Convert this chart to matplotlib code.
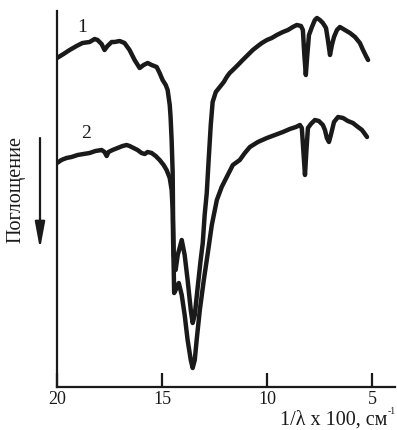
import matplotlib
matplotlib.use('Agg')
import matplotlib.pyplot as plt
import numpy as np

# волновое число (1/λ x 100, см-1) и поглощение (усл. ед.)
wn1 = [20.0, 19.69, 19.40, 19.07, 18.79, 18.45, 18.21, 18.07, 17.88, 17.74, 17.60, 17.40, 17.26,
       17.02, 16.79, 16.55, 16.31, 16.07, 15.88, 15.69, 15.50, 15.26, 15.12, 14.98, 14.83, 14.74,
       14.64, 14.60, 14.55, 14.50, 14.48, 14.45, 14.36, 14.26, 14.07, 13.93, 13.79, 13.64, 13.55,
       13.45, 13.31, 13.17, 13.07, 12.98, 12.88, 12.79, 12.69, 12.60, 12.45, 12.26, 12.07, 11.93,
       11.79, 11.64, 11.40, 11.17, 10.93, 10.69, 10.45, 10.26, 10.02, 9.79, 9.55, 9.26, 9.02, 8.79,
       8.60, 8.40, 8.31, 8.24, 8.17, 8.10, 8.02, 7.88, 7.74, 7.64, 7.50, 7.36, 7.21, 7.12, 7.02,
       6.93, 6.83, 6.69, 6.55, 6.31, 6.07, 5.83, 5.60, 5.45, 5.31, 5.21]
abs1 = [329, 333, 337, 341, 344, 345, 348, 347, 343, 337, 341, 345, 345,
        346, 344, 337, 327, 319, 322, 324, 322, 320, 314, 307, 302, 297,
        282, 270, 247, 214, 167, 132, 117, 132, 147, 132, 107, 77, 64,
        72, 100, 127, 144, 172, 194, 227, 262, 285, 295, 300, 305, 310,
        314, 317, 322, 327, 332, 337, 341, 344, 347, 349, 352, 355, 357, 360,
        362, 361, 357, 332, 312, 332, 352, 360, 367, 369, 367, 364, 359, 347, 332,
        342, 350, 357, 360, 357, 354, 350, 344, 337, 331, 327]

wn2 = [20.0, 19.79, 19.55, 19.31, 19.02, 18.74, 18.45, 18.17, 17.88, 17.74, 17.64, 17.55, 17.36,
       17.12, 16.88, 16.69, 16.55, 16.36, 16.17, 15.98, 15.83, 15.69, 15.50, 15.31, 15.12, 14.93,
       14.79, 14.64, 14.55, 14.50, 14.48, 14.45, 14.43, 14.36, 14.21, 14.07, 13.93, 13.79, 13.64,
       13.55, 13.45, 13.36, 13.21, 13.02, 12.83, 12.64, 12.40, 12.17, 11.93, 11.64, 11.31, 11.07,
       10.83, 10.45, 10.02, 9.64, 9.26, 8.93, 8.64, 8.45, 8.36, 8.29, 8.21, 8.14, 8.07, 7.93, 7.74,
       7.55, 7.36, 7.26, 7.17, 7.07, 6.98, 6.83, 6.64, 6.40, 6.17, 5.93, 5.69, 5.50, 5.36, 5.26]
abs2 = [224, 227, 229, 230, 232, 233, 234, 236, 237, 235, 231, 235, 237,
        239, 241, 242, 241, 239, 237, 234, 233, 235, 234, 231, 227, 222,
        217, 209, 197, 177, 147, 117, 94, 97, 104, 92, 72, 47, 27,
        19, 27, 47, 77, 107, 134, 162, 187, 200, 210, 222, 227, 234,
        240, 245, 249, 252, 255, 258, 260, 262, 259, 237, 212, 237, 259, 263, 267,
        266, 262, 257, 249, 245, 252, 265, 270, 269, 266, 264, 260, 257, 253, 250]

xticks = [20, 15, 10, 5]

W, H = 397, 430
fig = plt.figure(figsize=(W / 100, H / 100), dpi=100)
ax = fig.add_axes([57 / W, 1 - 387 / H, (395 - 57) / W, (387 - 11) / H])

ink = '#1a1a1a'
serif = 'Liberation Serif'
for wn, a in [(wn1, abs1), (wn2, abs2)]:
    ax.plot(wn, a, color=ink, lw=3.2, solid_joinstyle='round', solid_capstyle='round')

ax.set_xlim(20, 3.93)
ax.set_ylim(0, 376)
ax.set_xticks(xticks)
ax.set_xticklabels([str(t) for t in xticks], fontsize=13, family=serif, color=ink)
ax.tick_params(axis='x', direction='in', length=10, width=1.6, pad=3, color=ink)
ax.set_yticks([])
for s in ['top', 'right']:
    ax.spines[s].set_visible(False)
for s in ['left', 'bottom']:
    ax.spines[s].set_linewidth(1.6)
    ax.spines[s].set_color(ink)
ax.patch.set_alpha(0)

fig.text(82 / W, 1 - 27 / H, '1', fontsize=14, family=serif, ha='center', va='center', color=ink)
fig.text(86 / W, 1 - 133 / H, '2', fontsize=14, family=serif, ha='center', va='center', color=ink)

fig.text(16 / W, 1 - 189 / H, 'Поглощение', rotation=90, fontsize=14.5, family=serif,
         ha='center', va='center', color=ink)
fig.add_artist(matplotlib.patches.FancyArrowPatch(
    (40 / W, 1 - 138 / H), (40 / W, 1 - 249 / H), transform=fig.transFigure,
    arrowstyle='-|>,head_length=1.6,head_width=0.3', lw=1.6, color=ink, mutation_scale=10,
    shrinkA=0, shrinkB=0))

fig.text(387 / W, 1 - 420 / H, '1/λ x 100, см', fontsize=14.5, family=serif,
         ha='right', va='center', color=ink)
fig.text(388 / W, 1 - 411 / H, '-1', fontsize=7, family=serif, ha='left', va='center', color=ink)

fig.savefig('out.png', dpi=100)
